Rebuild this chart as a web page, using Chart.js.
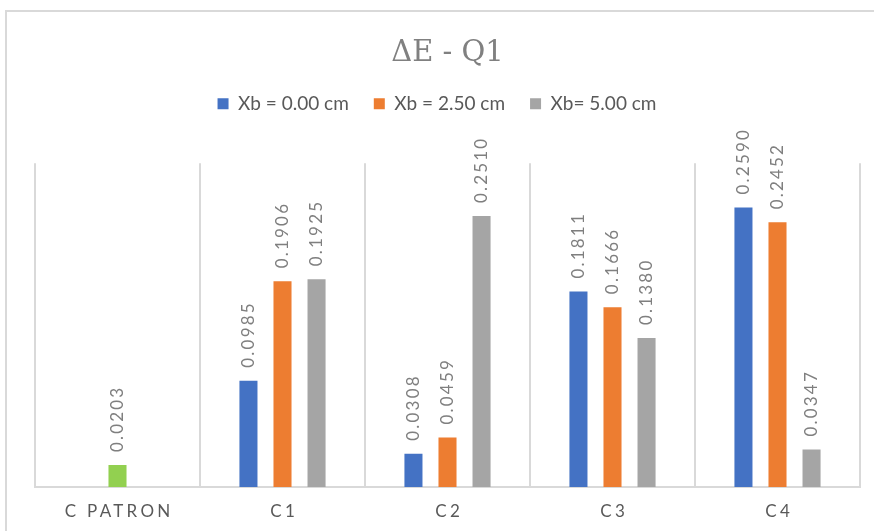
<!DOCTYPE html>
<html><head><meta charset="utf-8">
<script src="https://cdn.jsdelivr.net/npm/chart.js@4"></script>
<style>
html,body{margin:0;padding:0;background:#fff;overflow:hidden}
#frame{position:absolute;left:5px;top:10px;width:900px;height:600px;border:2px solid #d9d9d9;box-sizing:border-box}
#wrap{position:absolute;left:0;top:0;width:874px;height:531px}
</style></head><body>
<div id="frame"></div>
<div id="wrap"><canvas id="c" width="874" height="531"></canvas></div>
<script>
// ΔE per configuration, one array per Xb position
const categories = ['C PATRON', 'C1', 'C2', 'C3', 'C4'];
const seriesNames = ['Xb = 0.00 cm', 'Xb = 2.50 cm', 'Xb= 5.00 cm'];
const xb000 = [null, 0.0985, 0.0308, 0.1811, 0.2590];
const xb250 = [0.0203, 0.1906, 0.0459, 0.1666, 0.2452];
const xb500 = [null, 0.1925, 0.2510, 0.1380, 0.0347];
const yRange = [0, 0.3];

const BLUE = '#4472C4', ORANGE = '#ED7D31', GRAY = '#A5A5A5', GREEN = '#92D050';
const GRID = '#d9d9d9', TEXT = '#595959';

// extra room between the legend and the plot; legend centred on the page
const legendGap = {
  id: 'legendGap',
  beforeInit(chart) {
    const lg = chart.legend;
    const fit = lg.fit;
    lg.fit = function () { fit.call(this); this.height += 40; };
  },
  afterLayout(chart) {
    const lg = chart.legend;
    const shift = chart.width / 2 - (lg.left + lg.right) / 2;
    lg.left += shift;
    lg.right += shift;
  }
};

// rotated value labels above each bar
const valueLabels = {
  id: 'valueLabels',
  afterDatasetsDraw(chart) {
    const ctx = chart.ctx;
    ctx.save();
    ctx.font = '17px Lato';
    ctx.fillStyle = '#7f7f7f';
    ctx.letterSpacing = '2.2px';
    ctx.textAlign = 'left';
    ctx.textBaseline = 'middle';
    chart.data.datasets.forEach((ds, di) => {
      const meta = chart.getDatasetMeta(di);
      meta.data.forEach((bar, i) => {
        const v = ds.data[i];
        if (v == null) return;
        ctx.save();
        ctx.translate(bar.x, bar.y - 13);
        ctx.rotate(-Math.PI / 2);
        ctx.fillText(v.toFixed(4), 0, 0);
        ctx.restore();
      });
    });
    ctx.restore();
  }
};

// spaced category names under the axis
const categoryLabels = {
  id: 'categoryLabels',
  afterDraw(chart) {
    const ctx = chart.ctx, x = chart.scales.x;
    const sp = 3.3;
    ctx.save();
    ctx.font = '17px Lato';
    ctx.fillStyle = TEXT;
    ctx.letterSpacing = sp + 'px';
    ctx.textAlign = 'center';
    ctx.textBaseline = 'middle';
    categories.forEach((c, i) => {
      ctx.fillText(c, x.getPixelForValue(i) + sp / 2, chart.chartArea.bottom + 25);
    });
    ctx.restore();
  }
};

new Chart(document.getElementById('c'), {
  type: 'bar',
  data: {
    labels: categories,
    datasets: [
      { label: seriesNames[0], data: xb000, backgroundColor: BLUE },
      { label: seriesNames[1], data: xb250,
        // the reference configuration (C PATRON) is shown in green
        backgroundColor: (c) => (c.type === 'data' && c.dataIndex === 0) ? GREEN : ORANGE },
      { label: seriesNames[2], data: xb500, backgroundColor: GRAY }
    ]
  },
  options: {
    responsive: false,
    animation: false,
    devicePixelRatio: 1,
    layout: { padding: { left: 35, right: 14, top: 0, bottom: 44 } },
    datasets: { bar: { categoryPercentage: 0.619, barPercentage: 0.53 } },
    plugins: {
      title: {
        display: true, text: 'ΔE - Q1', color: '#808080',
        font: { family: 'DejaVu Serif', size: 29, weight: 'normal' },
        padding: { top: 36, bottom: -1.6 }
      },
      legend: {
        labels: {
          boxWidth: 11, boxHeight: 11, padding: 25, color: TEXT,
          font: { family: 'Lato', size: 19 },
          generateLabels(chart) {
            const items = Chart.defaults.plugins.legend.labels.generateLabels(chart);
            const fills = [BLUE, ORANGE, GRAY];
            items.forEach((it, i) => { it.fillStyle = fills[i]; it.strokeStyle = fills[i]; });
            return items;
          }
        }
      },
      tooltip: { enabled: false }
    },
    scales: {
      x: {
        grid: { color: GRID, lineWidth: 2, drawTicks: false, offset: true },
        border: { color: GRID, width: 2 },
        ticks: { display: false }
      },
      y: { display: false, min: yRange[0], max: yRange[1], stacked: false }
    }
  },
  plugins: [legendGap, valueLabels, categoryLabels]
});
</script>
</body></html>
